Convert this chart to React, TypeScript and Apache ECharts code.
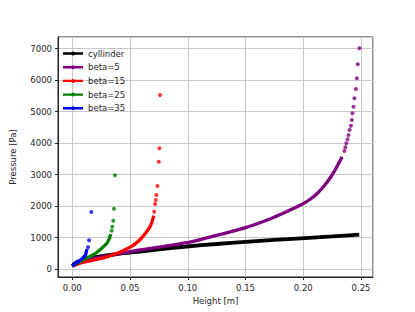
import React, { useEffect, useRef } from "react";
import * as echarts from "echarts";

// Height [m] and Pressure [Pa] readings
const cylH = [0, 0.002, 0.005, 0.01, 0.02, 0.03, 0.04, 0.054, 0.075, 0.099, 0.125, 0.15, 0.175, 0.198, 0.225, 0.2485];
const cylP = [100, 180, 240, 300, 380, 440, 490, 540, 630, 720, 800, 870, 930, 980, 1040, 1100];

const b5H = [0, 0.005, 0.01, 0.02, 0.03, 0.04, 0.054, 0.075, 0.099, 0.113, 0.13, 0.15, 0.17, 0.184, 0.199, 0.206, 0.2125, 0.218, 0.2237, 0.2279, 0.2307, 0.2336];
const b5P = [100, 200, 270, 350, 420, 490, 585, 700, 840, 960, 1120, 1320, 1580, 1800, 2060, 2220, 2420, 2640, 2920, 3170, 3360, 3570];
const b5TailH = [0.2356, 0.2364, 0.2373, 0.2384, 0.2392, 0.2401, 0.2413, 0.2421, 0.2426, 0.2435, 0.2443, 0.2455, 0.2464, 0.2472, 0.2486];
const b5TailP = [3750, 3870, 4000, 4125, 4260, 4420, 4555, 4735, 4950, 5160, 5425, 5720, 6060, 6505, 7013];

const b15H = [0, 0.005, 0.01, 0.02, 0.03, 0.04, 0.05, 0.055, 0.06, 0.064, 0.067, 0.069, 0.0705];
const b15P = [100, 170, 220, 300, 390, 520, 700, 820, 990, 1170, 1330, 1500, 1700];
const b15TailH = [0.0709, 0.0717, 0.0723, 0.0728, 0.0737, 0.0749, 0.0754, 0.076];
const b15TailP = [1825, 2070, 2197, 2356, 2641, 3413, 3838, 5530];

const b25H = [0, 0.005, 0.01, 0.015, 0.02, 0.025, 0.0299, 0.0321, 0.0333];
const b25P = [100, 210, 310, 400, 505, 650, 822, 980, 1117];
const b25TailH = [0.0341, 0.0346, 0.0355, 0.0361, 0.0369];
const b25TailP = [1222, 1349, 1540, 1920, 2980];

const b35H = [0, 0.003, 0.006, 0.0085, 0.0101, 0.0115, 0.0121, 0.0129];
const b35P = [100, 190, 260, 330, 397, 450, 556, 640];
const b35TailH = [0.0136, 0.0145, 0.0165];
const b35TailP = [700, 920, 1816];

const names = ["cyllinder", "beta=5", "beta=15", "beta=25", "beta=35"];
const colors = ["#000000", "#800080", "#ff0000", "#008000", "#0000ff"];

const zip = (a: number[], b: number[]) => a.map((v, i) => [v, b[i]]);

const FONT = "DejaVu Sans";
const legendIcon = "path://M0,0.8 H20 V3.2 H0 Z M8,2 A2,2 0 1 1 12,2 A2,2 0 1 1 8,2 Z";

export default function App() {
  const ref = useRef<HTMLDivElement>(null);
  useEffect(() => {
    document.body.style.margin = "0";
    const chart = echarts.init(ref.current!, null, { renderer: "svg" });
    const lines = [
      [cylH, cylP, [], []],
      [b5H, b5P, b5TailH, b5TailP],
      [b15H, b15P, b15TailH, b15TailP],
      [b25H, b25P, b25TailH, b25TailP],
      [b35H, b35P, b35TailH, b35TailP],
    ] as number[][][];
    const series: any[] = [];
    lines.forEach((l, i) => {
      series.push({
        type: "line",
        name: names[i],
        data: zip(l[0], l[1]),
        symbol: "none",
        showSymbol: false,
        smooth: 0.25,
        lineStyle: { width: i === 0 ? 3.8 : 3.3, color: colors[i] },
        itemStyle: { color: colors[i] },
        z: 2 + i,
      });
      if (l[2].length) {
        series.push({
          type: "scatter",
          name: names[i],
          data: zip(l[2], l[3]),
          symbolSize: 4,
          itemStyle: { color: colors[i] },
          z: 2 + i,
        });
      }
    });
    chart.setOption({
      animation: false,
      backgroundColor: "#ffffff",
      textStyle: { fontFamily: FONT },
      grid: {
        left: 52,
        top: 37,
        width: 321,
        height: 240,
        show: true,
        borderColor: "#222",
        borderWidth: 1,
        backgroundColor: "transparent",
      },
      legend: {
        left: 58,
        top: 43.5,
        orient: "vertical",
        itemWidth: 20,
        itemHeight: 4,
        itemGap: 3.7,
        icon: legendIcon,
        data: names.map((n) => ({ name: n })),
        textStyle: { fontFamily: FONT, fontSize: 8.5, color: "#262626", lineHeight: 10 },
      },
      xAxis: {
        type: "value",
        min: -0.0124,
        max: 0.2604,
        splitNumber: 5,
        name: "Height [m]",
        nameLocation: "middle",
        nameGap: 19,
        nameTextStyle: { fontFamily: FONT, fontSize: 8.5, color: "#262626" },
        axisLine: { show: true, onZero: false, lineStyle: { color: "#222", width: 1 } },
        axisTick: { show: true, length: 3, lineStyle: { color: "#222" } },
        axisLabel: {
          fontFamily: FONT,
          fontSize: 8.5,
          color: "#262626",
          margin: 6,
          showMinLabel: false,
          showMaxLabel: false,
          formatter: (v: number) => v.toFixed(2),
        },
        splitLine: { show: true, lineStyle: { color: "#c8c8c8", width: 1 } },
      },
      yAxis: {
        type: "value",
        min: -248,
        max: 7371,
        splitNumber: 8,
        name: "Pressure [Pa]",
        nameLocation: "middle",
        nameGap: 41,
        nameTextStyle: { fontFamily: FONT, fontSize: 8.5, color: "#262626" },
        axisLine: { show: true, onZero: false, lineStyle: { color: "#222", width: 1 } },
        axisTick: { show: true, length: 3, lineStyle: { color: "#222" } },
        axisLabel: {
          fontFamily: FONT,
          fontSize: 8.5,
          color: "#262626",
          margin: 6,
          showMinLabel: false,
          showMaxLabel: false,
          formatter: (v: number) => String(Math.round(v)),
        },
        splitLine: { show: true, lineStyle: { color: "#c8c8c8", width: 1 } },
      },
      series,
    });
    return () => chart.dispose();
  }, []);
  return <div ref={ref} style={{ width: 415, height: 312 }} />;
}
